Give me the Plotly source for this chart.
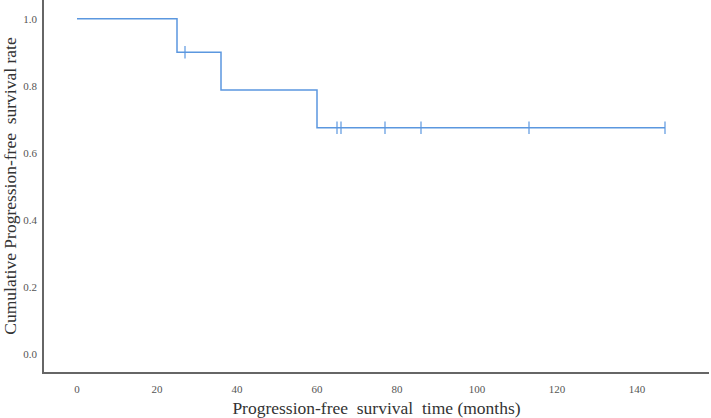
import plotly.graph_objects as go

# Kaplan-Meier step data
step_times = [0, 25, 36, 60, 147]
step_surv = [1.0, 0.9, 0.7875, 0.675, 0.675]

# Censored observations
censor_times = [27, 65, 66, 77, 86, 113, 147]
censor_surv = [0.9, 0.675, 0.675, 0.675, 0.675, 0.675, 0.675]

x_ticks = [0, 20, 40, 60, 80, 100, 120, 140]
y_ticks = [0.0, 0.2, 0.4, 0.6, 0.8, 1.0]

line_color = "#5b97df"
font_family = "Liberation Serif, DejaVu Serif, serif"

fig = go.Figure()
fig.add_trace(go.Scatter(
    x=step_times, y=step_surv, mode="lines",
    line=dict(color=line_color, width=1.5, shape="hv"),
    hoverinfo="skip", showlegend=False,
))
fig.add_trace(go.Scatter(
    x=censor_times, y=censor_surv, mode="markers",
    marker=dict(symbol="line-ns", size=9, line=dict(color=line_color, width=1.2)),
    showlegend=False,
))

fig.update_layout(
    width=711, height=418,
    margin=dict(l=44, r=2, t=0, b=46),
    plot_bgcolor="white", paper_bgcolor="white",
    font=dict(family=font_family, color="#333333"),
    xaxis=dict(
        range=[-8.25, 158], tickvals=x_ticks, ticktext=[str(v) for v in x_ticks],
        showgrid=False, zeroline=False, showline=True, linecolor="#666666", linewidth=1.5,
        ticks="", ticklabelstandoff=6, tickfont=dict(size=11, color="#555555"),
        title=dict(text="Progression-free\u00a0\u00a0survival\u00a0\u00a0time (months)",
                   font=dict(size=17.5, color="#333333"), standoff=10),
        automargin=False,
    ),
    yaxis=dict(
        range=[-0.054, 1.056], tickvals=y_ticks, ticktext=[f"{v:.1f}" for v in y_ticks],
        showgrid=False, zeroline=False, showline=True, linecolor="#666666", linewidth=1.5,
        ticks="", ticklabelstandoff=3, tickfont=dict(size=11, color="#555555"),
        title=dict(text="Cumulative Progression-free\u00a0\u00a0survival rate",
                   font=dict(size=17.5, color="#333333"), standoff=6),
        automargin=False,
    ),
)

fig.write_html("out.html", config={"displayModeBar": False},
               post_script="document.body.style.margin='0';")
